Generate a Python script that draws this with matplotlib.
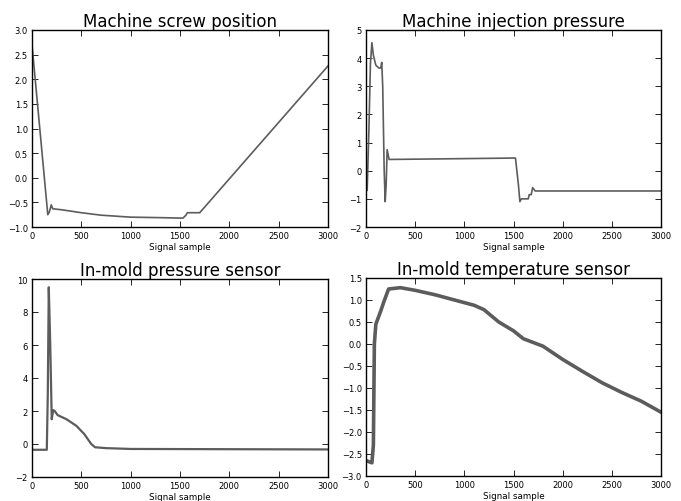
import matplotlib
matplotlib.use("Agg")
import matplotlib.pyplot as plt

# values (key points of each signal)
screw_x = [0, 160, 175, 195, 210, 300, 500, 700, 1000, 1300, 1530, 1560, 1575, 1700, 3000]
screw_y = [2.7, -0.75, -0.7, -0.55, -0.63, -0.65, -0.71, -0.76, -0.80, -0.81, -0.82, -0.76, -0.71, -0.71, 2.27]

inj_x = [0, 12, 30, 45, 60, 75, 100, 130, 150, 160, 170, 185, 195, 205, 215, 235,
         1520, 1550, 1565, 1580, 1650, 1660, 1680, 1695, 1720, 3000]
inj_y = [-0.3, -0.7, 1.5, 3.8, 4.55, 4.1, 3.75, 3.65, 3.65, 3.85, 3.0, 0.0, -1.1, -0.5, 0.75, 0.4,
         0.45, -0.5, -1.1, -1.0, -1.0, -0.85, -0.85, -0.6, -0.72, -0.72]

pres_x = [0, 150, 160, 170, 185, 200, 215, 230, 260, 350, 450, 530, 600, 640, 750, 1000, 3000]
pres_y = [-0.35, -0.35, 3.0, 9.5, 6.0, 1.5, 2.05, 2.0, 1.75, 1.5, 1.1, 0.6, 0.0, -0.2, -0.25, -0.3, -0.33]

temp_x = [0, 60, 75, 85, 100, 150, 180, 230, 350, 500, 700, 900, 1100, 1200, 1350, 1500,
          1600, 1800, 2000, 2200, 2400, 2600, 2800, 3000]
temp_y = [-2.65, -2.7, -2.3, 0.0, 0.45, 0.75, 0.95, 1.25, 1.28, 1.22, 1.12, 1.0, 0.88, 0.78, 0.5, 0.3,
          0.12, -0.05, -0.35, -0.62, -0.88, -1.1, -1.3, -1.55]

titles = ["Machine screw position", "Machine injection pressure",
          "In-mold pressure sensor", "In-mold temperature sensor"]
ylims = [(-1, 3), (-2, 5), (-2, 10), (-3, 1.5)]
yticks = [[-1.0, -0.5, 0.0, 0.5, 1.0, 1.5, 2.0, 2.5, 3.0],
          [-2, -1, 0, 1, 2, 3, 4, 5],
          [-2, 0, 2, 4, 6, 8, 10],
          [-3.0, -2.5, -2.0, -1.5, -1.0, -0.5, 0.0, 0.5, 1.0, 1.5]]
yfmt = ["{:.1f}", "{:d}", "{:d}", "{:.1f}"]
xticks = [0, 500, 1000, 1500, 2000, 2500, 3000]

series = [(screw_x, screw_y, 1.2), (inj_x, inj_y, 1.2), (pres_x, pres_y, 1.6), (temp_x, temp_y, 2.6)]

# axes boxes in pixels: left, top, right, bottom
boxes = [(32, 31, 328, 228), (366, 31, 661, 228), (32, 280, 328, 478), (366, 279, 661, 477)]

W, H = 681, 502
fig = plt.figure(figsize=(W / 100, H / 100), dpi=100)

for i in range(4):
    l, t, r, b = boxes[i]
    ax = fig.add_axes([l / W, 1 - b / H, (r - l) / W, (b - t) / H])
    x, y, lw = series[i]
    ax.plot(x, y, color="#5c5c5c", lw=lw)
    ax.set_xlim(0, 3000)
    ax.set_ylim(*ylims[i])
    ax.set_xticks(xticks)
    ax.set_xticklabels([str(v) for v in xticks])
    ax.set_yticks(yticks[i])
    ax.set_yticklabels([yfmt[i].format(v).replace("-", "\u2212") for v in yticks[i]])
    ax.tick_params(direction="in", top=True, right=True, length=4, width=0.6,
                   labelsize=6, pad=3, colors="black")
    for s in ax.spines.values():
        s.set_linewidth(1.0)
    ax.set_title(titles[i], fontsize=12, pad=3)
    ax.set_xlabel("Signal sample", fontsize=6.3, labelpad=1)

fig.savefig("out.png", dpi=100, facecolor="white")
